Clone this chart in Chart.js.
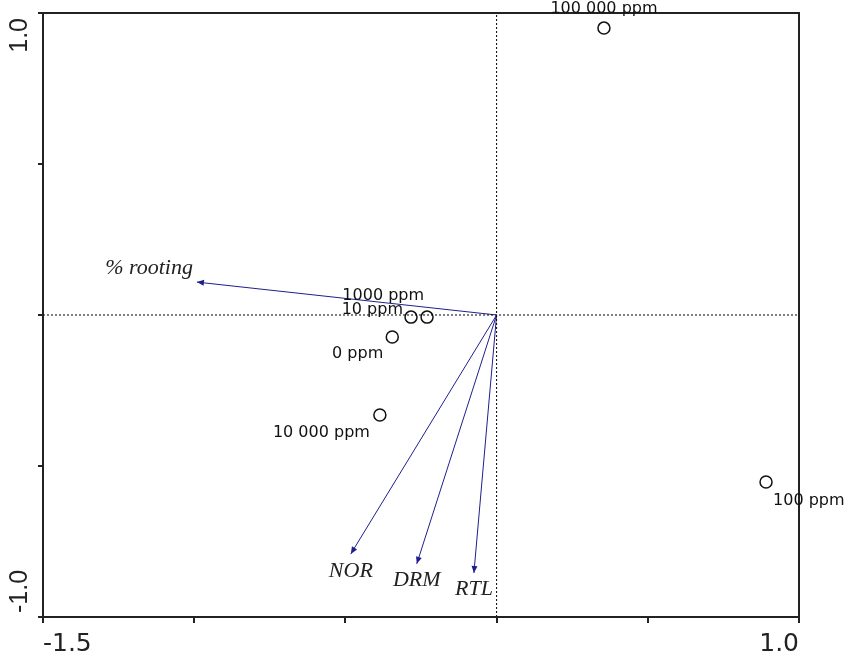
<!DOCTYPE html>
<html>
<head>
<meta charset="utf-8">
<script src="https://cdn.jsdelivr.net/npm/chart.js@4/dist/chart.umd.min.js"></script>
<style>
  html, body { margin: 0; padding: 0; background: #fff; }
  #wrap { width: 850px; height: 659px; }
</style>
</head>
<body>
<div id="wrap"><canvas id="myChart"></canvas></div>
<script>
// sample scores (circles)
var siteLabels = ['0 ppm', '10 ppm', '100 ppm', '1000 ppm', '10 000 ppm', '100 000 ppm'];
var siteX = [-0.345, -0.283, 0.891, -0.230, -0.386, 0.355];
var siteY = [-0.073, -0.007, -0.553, -0.007, -0.331, 0.950];

// variable arrows
var varLabels = ['% rooting', 'NOR', 'DRM', 'RTL'];
var varX = [-0.991, -0.482, -0.264, -0.075];
var varY = [0.109, -0.791, -0.824, -0.854];

// axes
var xRange = [-1.5, 1.0];
var yRange = [-1.0, 1.0];
var tickStep = 0.5;

var arrowColor = '#1f1f8c';

// where each text sits next to its mark: [align, dx, dy]
var siteLabelPos = {
    '100 000 ppm': ['center', 0, -19],
    '100 ppm': ['left', 7, 19],
    '1000 ppm': ['right', -3, -21],
    '10 ppm': ['right', -8, -7],
    '0 ppm': ['right', -9, 17],
    '10 000 ppm': ['right', -10, 18]
};
var varLabelPos = {
    '% rooting': ['right', -4, -14],
    'NOR': ['center', 0, 17],
    'DRM': ['center', 0, 16],
    'RTL': ['center', 0, 16]
};

function buildDatasets() {
    var sets = [];

    // dotted cross through the origin
    sets.push({
        type: 'line', data: [{x: xRange[0], y: 0}, {x: xRange[1], y: 0}],
        borderColor: '#000', borderWidth: 1, borderDash: [2, 2], pointRadius: 0, fill: false
    });
    sets.push({
        type: 'line', data: [{x: 0, y: yRange[0]}, {x: 0, y: yRange[1]}],
        borderColor: '#000', borderWidth: 1, borderDash: [2, 2], pointRadius: 0, fill: false
    });

    for (var i = 0; i < varLabels.length; i++) {
        sets.push({
            type: 'line', label: varLabels[i],
            data: [{x: 0, y: 0}, {x: varX[i], y: varY[i]}],
            borderColor: arrowColor, borderWidth: 1, pointRadius: 0, fill: false
        });
    }

    var pts = [];
    for (var j = 0; j < siteLabels.length; j++) {
        pts.push({x: siteX[j], y: siteY[j]});
    }
    sets.push({
        type: 'scatter', label: 'sites', data: pts,
        pointRadius: 6, pointBorderWidth: 1.5,
        pointBorderColor: '#111', pointBackgroundColor: '#fff'
    });
    return sets;
}

var biplotPlugin = {
    id: 'biplot',
    afterDatasetsDraw: function(chart) {
        var ctx = chart.ctx;
        var xs = chart.scales.x;
        var ys = chart.scales.y;
        var area = chart.chartArea;

        ctx.save();
        // frame
        ctx.strokeStyle = '#222';
        ctx.lineWidth = 2;
        ctx.strokeRect(area.left, area.top, area.right - area.left, area.bottom - area.top);

        // arrow heads + variable names
        for (var i = 0; i < varLabels.length; i++) {
            var x0 = xs.getPixelForValue(0), y0 = ys.getPixelForValue(0);
            var x1 = xs.getPixelForValue(varX[i]), y1 = ys.getPixelForValue(varY[i]);
            var ang = Math.atan2(y1 - y0, x1 - x0);
            var len = 7, half = 3;
            ctx.fillStyle = arrowColor;
            ctx.beginPath();
            ctx.moveTo(x1, y1);
            ctx.lineTo(x1 - len * Math.cos(ang) + half * Math.sin(ang), y1 - len * Math.sin(ang) - half * Math.cos(ang));
            ctx.lineTo(x1 - len * Math.cos(ang) - half * Math.sin(ang), y1 - len * Math.sin(ang) + half * Math.cos(ang));
            ctx.closePath();
            ctx.fill();

            var p = varLabelPos[varLabels[i]];
            ctx.font = 'italic 22px "Liberation Serif", "Times New Roman", serif';
            ctx.fillStyle = '#222';
            ctx.textAlign = p[0];
            ctx.textBaseline = 'middle';
            ctx.fillText(varLabels[i], x1 + p[1], y1 + p[2]);
        }

        // sample names
        ctx.font = '16px "DejaVu Sans", Verdana, sans-serif';
        ctx.fillStyle = '#111';
        ctx.textBaseline = 'middle';
        for (var j = 0; j < siteLabels.length; j++) {
            var q = siteLabelPos[siteLabels[j]];
            ctx.textAlign = q[0];
            ctx.fillText(siteLabels[j], xs.getPixelForValue(siteX[j]) + q[1], ys.getPixelForValue(siteY[j]) + q[2]);
        }

        // rotated y tick labels (only the ends are labelled)
        ctx.font = '25px "Liberation Sans", Arial, sans-serif';
        ctx.fillStyle = '#222';
        ctx.textBaseline = 'alphabetic';
        var ends = [yRange[1], yRange[0]];
        for (var k = 0; k < ends.length; k++) {
            var py = ys.getPixelForValue(ends[k]);
            ctx.save();
            ctx.translate(27, k == 0 ? py + 5 : py - 4);
            ctx.rotate(-Math.PI / 2);
            ctx.textAlign = k == 0 ? 'right' : 'left';
            ctx.fillText(ends[k].toFixed(1), 0, 0);
            ctx.restore();
        }
        ctx.restore();
    }
};

var mychart = new Chart(document.getElementById('myChart'), {
    type: 'scatter',
    data: {datasets: buildDatasets()},
    options: {
        responsive: true,
        maintainAspectRatio: false,
        animation: false,
        layout: {padding: {top: 13, right: 51, left: 0, bottom: 0}},
        plugins: {legend: {display: false}, tooltip: {enabled: false}},
        scales: {
            x: {
                type: 'linear', min: xRange[0], max: xRange[1],
                afterFit: function(scale) { scale.height = 42; },
                ticks: {
                    stepSize: tickStep, align: 'inner', padding: 6,
                    color: '#222', font: {size: 25, family: '"DejaVu Sans", Verdana, sans-serif'},
                    callback: function(v) {
                        return (Math.abs(v - xRange[0]) < 1e-9 || Math.abs(v - xRange[1]) < 1e-9) ? v.toFixed(1) : '';
                    }
                },
                grid: {drawOnChartArea: false, drawTicks: true, tickLength: 6, color: '#222', lineWidth: 2},
                border: {color: '#222', width: 2}
            },
            y: {
                type: 'linear', min: yRange[0], max: yRange[1],
                afterFit: function(scale) { scale.width = 43; },
                ticks: {stepSize: tickStep, callback: function() { return ''; }},
                grid: {drawOnChartArea: false, drawTicks: true, tickLength: 5, color: '#222', lineWidth: 2},
                border: {color: '#222', width: 2}
            }
        }
    },
    plugins: [biplotPlugin]
});
</script>
</body>
</html>
